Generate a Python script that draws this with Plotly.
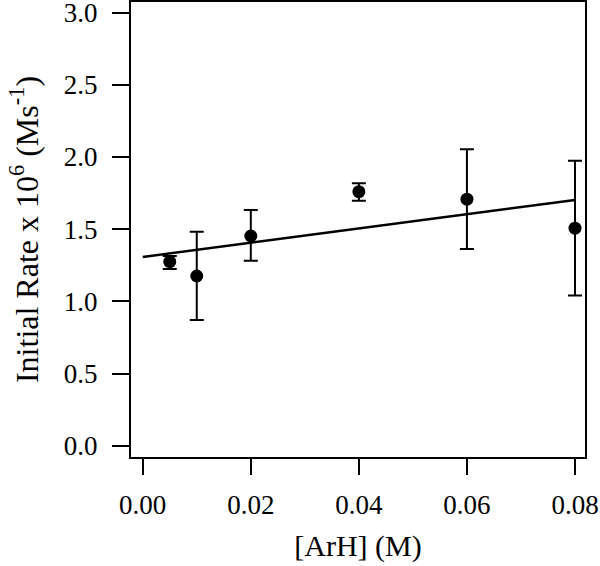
import plotly.graph_objects as go

# Data
arh_conc = [0.005, 0.01, 0.02, 0.04, 0.06, 0.08]
initial_rate = [1.275, 1.176, 1.453, 1.760, 1.708, 1.507]
rate_err_plus = [0.040, 0.307, 0.180, 0.058, 0.346, 0.468]
rate_err_minus = [0.050, 0.305, 0.171, 0.062, 0.345, 0.467]

fit_x = [0.0, 0.08]
fit_y = [1.308, 1.703]

x_ticks = [0.00, 0.02, 0.04, 0.06, 0.08]
x_tick_labels = ["0.00", "0.02", "0.04", "0.06", "0.08"]
y_ticks = [0.0, 0.5, 1.0, 1.5, 2.0, 2.5, 3.0]
y_tick_labels = ["0.0", "0.5", "1.0", "1.5", "2.0", "2.5", "3.0"]

FONT = "Palatino Linotype, Palatino, Liberation Serif, serif"

fig = go.Figure()
fig.add_trace(go.Scatter(
    x=fit_x, y=fit_y, mode="lines",
    line=dict(color="black", width=2.5),
    showlegend=False, hoverinfo="skip",
))
fig.add_trace(go.Scatter(
    x=arh_conc, y=initial_rate, mode="markers",
    marker=dict(color="black", size=13),
    error_y=dict(type="data", symmetric=False, array=rate_err_plus,
                 arrayminus=rate_err_minus, color="black", thickness=2, width=7),
    showlegend=False,
))

fig.update_layout(
    width=600, height=566,
    margin=dict(l=131, r=15, t=2, b=109),
    paper_bgcolor="white", plot_bgcolor="white",
    font=dict(family=FONT, size=26, color="black"),
    xaxis=dict(
        range=[-0.00217, 0.08185],
        tickvals=x_ticks, ticktext=x_tick_labels,
        ticks="outside", ticklen=16, tickwidth=2, tickcolor="black",
        showline=True, linewidth=2, linecolor="black", mirror=True,
        showgrid=False, zeroline=False, automargin=False,
        ticklabelstandoff=7, ticklabeloverflow="allow",
        tickfont=dict(family=FONT, size=27),
        title=dict(text="[ArH] (M)", font=dict(family=FONT, size=30), standoff=16),
    ),
    yaxis=dict(
        range=[-0.078, 3.074],
        tickvals=y_ticks, ticktext=y_tick_labels,
        ticks="outside", ticklen=17, tickwidth=2, tickcolor="black",
        showline=True, linewidth=2, linecolor="black", mirror=True,
        showgrid=False, zeroline=False, automargin=False,
        ticklabelstandoff=9, ticklabeloverflow="allow",
        tickfont=dict(family=FONT, size=27),
        title=dict(text="Initial Rate x 10<sup>6</sup> (Ms<sup>-1</sup>)",
                   font=dict(family=FONT, size=32), standoff=16),
    ),
)

fig.write_html("out.html", config={"displayModeBar": False},
               post_script="document.body.style.margin='0px';")
